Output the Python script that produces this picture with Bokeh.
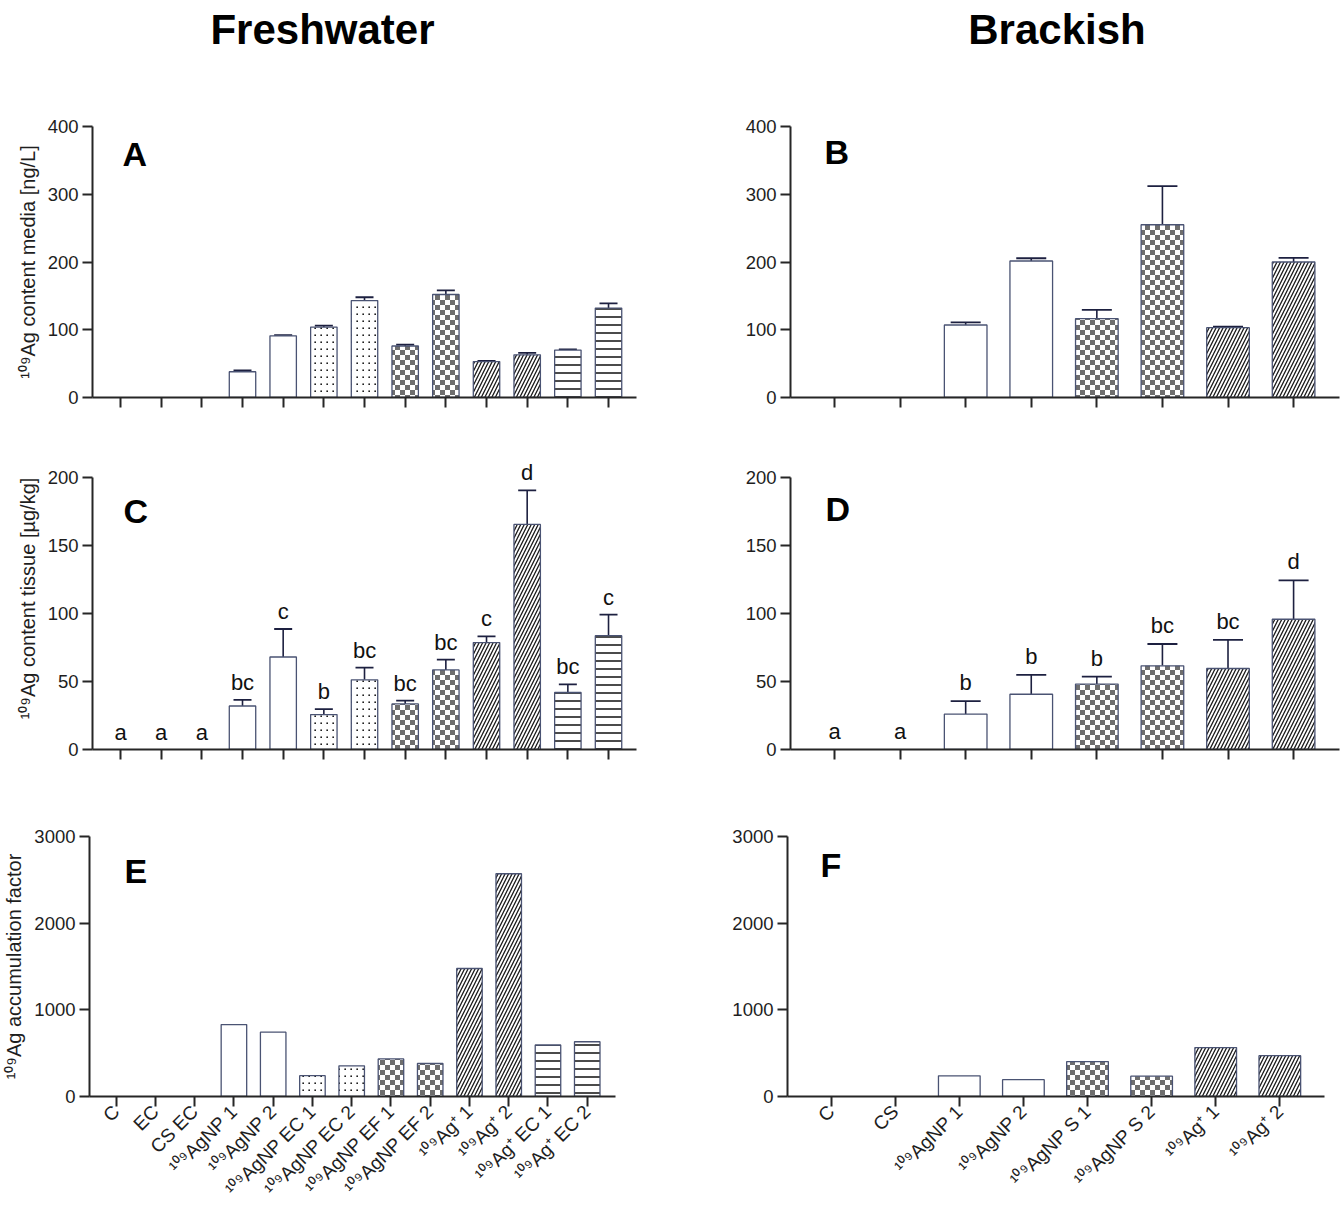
import math
import zlib
import struct
import base64
from bokeh.plotting import figure
from bokeh.models import (Range1d, FixedTicker, ColumnDataSource, Whisker, TeeHead,
                          LabelSet, Label, ImageURLTexture)
from bokeh.layouts import column, row
from bokeh.core.properties import value
from bokeh.embed import file_html
from bokeh.resources import INLINE

# ---------------- data ----------------
fw_cats = ["C", "EC", "CS EC", "¹⁰⁹AgNP 1", "¹⁰⁹AgNP 2", "¹⁰⁹AgNP EC 1", "¹⁰⁹AgNP EC 2",
           "¹⁰⁹AgNP EF 1", "¹⁰⁹AgNP EF 2", "¹⁰⁹Ag⁺ 1", "¹⁰⁹Ag⁺ 2", "¹⁰⁹Ag⁺ EC 1", "¹⁰⁹Ag⁺ EC 2"]
fw_groups = ["none", "none", "none", "open", "open", "dots", "dots",
             "checker", "checker", "diag", "diag", "hline", "hline"]
fw_media = [0, 0, 0, 38, 91, 104, 143, 76, 152, 53, 63, 70, 132]
fw_media_err = [0, 0, 0, 2, 1, 2, 5, 2, 6, 1, 3, 1, 7]
fw_tissue = [0, 0, 0, 32, 68, 25.7, 51.2, 33.5, 58.5, 78.6, 165.5, 41.9, 83.7]
fw_tissue_err = [0, 0, 0, 4.5, 20.6, 4, 9, 2.5, 7.6, 4.6, 25, 6, 15.4]
fw_letters = ["a", "a", "a", "bc", "c", "b", "bc", "bc", "bc", "c", "d", "bc", "c"]
fw_af = [0, 0, 0, 830, 742, 240, 354, 434, 381, 1477, 2570, 594, 632]

br_cats = ["C", "CS", "¹⁰⁹AgNP 1", "¹⁰⁹AgNP 2", "¹⁰⁹AgNP S 1", "¹⁰⁹AgNP S 2", "¹⁰⁹Ag⁺ 1", "¹⁰⁹Ag⁺ 2"]
br_groups = ["none", "none", "open", "open", "checker", "checker", "diag", "diag"]
br_media = [0, 0, 107, 201.5, 116.3, 255, 103, 200]
br_media_err = [0, 0, 4, 4, 13, 57, 1.5, 6]
br_tissue = [0, 0, 26, 40.6, 48.1, 61.5, 59.5, 95.7]
br_tissue_err = [0, 0, 9.5, 14.3, 5.4, 16, 21, 28.5]
br_letters = ["a", "a", "b", "b", "b", "bc", "bc", "d"]
br_af = [0, 0, 239, 194, 403, 235, 564, 471]

media_ticks = [0, 100, 200, 300, 400]
tissue_ticks = [0, 50, 100, 150, 200]
af_ticks = [0, 1000, 2000, 3000]

FONT = "Liberation Sans"
AX = "#262626"
BAR_LINE = "#4a5373"
ERR = "#1d2040"


def png_uri(rows):
    """Tiny grayscale PNG tile, used as a fill texture."""
    h, w = len(rows), len(rows[0])
    raw = b"".join(b"\x00" + bytes(r) for r in rows)

    def chunk(t, d):
        return (struct.pack(">I", len(d)) + t + d +
                struct.pack(">I", zlib.crc32(t + d) & 0xffffffff))
    data = (b"\x89PNG\r\n\x1a\n" +
            chunk(b"IHDR", struct.pack(">IIBBBBB", w, h, 8, 0, 0, 0, 0)) +
            chunk(b"IDAT", zlib.compress(raw)) + chunk(b"IEND", b""))
    return "data:image/png;base64," + base64.b64encode(data).decode()


checker_tile = [[0x6e if ((x < 5) == (y < 5)) else 0xff for x in range(10)] for y in range(10)]
dots_tile = [[0xff] * 6 for _ in range(7)]
dots_tile[3][3] = 0x20
dots_tile[3][2] = 0x70
dots_tile[2][3] = 0x80
dots_tile[2][2] = 0xb0

checker = ImageURLTexture(url=png_uri(checker_tile))
dots = ImageURLTexture(url=png_uri(dots_tile))

STYLES = {
    "open": dict(),
    "dots": dict(hatch_pattern=value("dots"), hatch_extra={"dots": dots}, hatch_color="black"),
    "checker": dict(hatch_pattern=value("checker"), hatch_extra={"checker": checker},
                    hatch_color="black"),
    "diag": dict(hatch_pattern=value("right_diagonal_line"), hatch_scale=7, hatch_weight=1.3,
                 hatch_color="#1a1a1a"),
    "hline": dict(hatch_pattern=value("horizontal_line"), hatch_scale=8, hatch_weight=1.7,
                  hatch_color="#2a2a2a"),
}


def panel(width, height, mbl, mbr, mbt, mbb, xr, yr, yticks, n, ylabel=None, labels=None):
    p = figure(width=width, height=height, output_backend="svg", toolbar_location=None,
               x_range=Range1d(*xr), y_range=Range1d(*yr),
               min_border_left=mbl, min_border_right=mbr, min_border_top=mbt, min_border_bottom=mbb)
    p.outline_line_color = None
    p.xgrid.visible = False
    p.ygrid.visible = False
    for ax in (p.xaxis[0], p.yaxis[0]):
        ax.axis_line_color = AX
        ax.axis_line_width = 2
        ax.major_tick_line_color = AX
        ax.major_tick_line_width = 2
        ax.major_tick_out = 10
        ax.major_tick_in = 0
        ax.minor_tick_out = 0
        ax.minor_tick_in = 0
        ax.major_label_text_font = FONT
        ax.major_label_text_font_size = "18.5px"
        ax.major_label_text_color = "#1e1e1e"
    p.xaxis.ticker = FixedTicker(ticks=list(range(n)))
    if labels is None:
        p.xaxis.major_label_overrides = {i: "" for i in range(n)}
    else:
        p.xaxis.major_label_overrides = {i: t for i, t in enumerate(labels)}
        p.xaxis.major_label_orientation = math.pi / 4
        p.xaxis.major_label_standoff = 2
        p.xaxis.major_label_text_font_size = "19px"
    p.yaxis.ticker = FixedTicker(ticks=yticks)
    p.yaxis.bounds = (yticks[0], yticks[-1])
    p.yaxis.major_label_standoff = 4
    if ylabel:
        p.yaxis.axis_label = ylabel
        p.yaxis.axis_label_text_font = FONT
        p.yaxis.axis_label_text_font_size = "20px"
        p.yaxis.axis_label_text_font_style = "normal"
        p.yaxis.axis_label_text_color = "#1e1e1e"
        p.yaxis.axis_label_standoff = 6
    return p


def bars(p, vals, groups, width=0.65):
    for g, st in STYLES.items():
        idx = [i for i, (v, gg) in enumerate(zip(vals, groups)) if gg == g and v > 0]
        if not idx:
            continue
        src = ColumnDataSource(dict(x=idx, top=[vals[i] for i in idx]))
        p.vbar(x="x", top="top", bottom=0, width=width, source=src, fill_color="white",
               line_color=BAR_LINE, line_width=1.3, **st)


def errors(p, vals, errs, head):
    idx = [i for i, e in enumerate(errs) if e > 0]
    src = ColumnDataSource(dict(x=idx, up=[vals[i] + errs[i] for i in idx],
                                lo=[vals[i] - errs[i] for i in idx]))
    w = Whisker(source=src, base="x", upper="up", lower="lo", dimension="height",
                line_color=ERR, line_width=1.6,
                upper_head=TeeHead(size=head, line_color=ERR, line_width=1.8),
                lower_head=TeeHead(size=head, line_color=ERR, line_width=1.8))
    p.add_layout(w)


def letters(p, vals, errs, labs, off):
    src = ColumnDataSource(dict(x=list(range(len(vals))),
                                y=[v + e for v, e in zip(vals, errs)], t=labs))
    p.add_layout(LabelSet(x="x", y="y", text="t", source=src, text_align="center",
                          text_baseline="alphabetic", y_offset=off,
                          text_font=value(FONT), text_font_size="22px", text_color="#111111"))


def tag(p, t, x, y):
    p.add_layout(Label(x=x, y=y, x_units="screen", y_units="screen", text=t,
                       text_font=FONT, text_font_size="34px", text_font_style="bold",
                       text_baseline="middle", text_color="black"))


nf, nb = len(fw_cats), len(br_cats)

# titles
pt = figure(width=1341, height=80, output_backend="svg", toolbar_location=None,
            x_range=Range1d(0, 1341), y_range=Range1d(0, 80),
            x_axis_location=None, y_axis_location=None, min_border=0)
pt.outline_line_color = None
pt.grid.visible = False
pt.text(x=[322, 1056.5], y=[51, 51], text=["Freshwater", "Brackish"],
        text_font=value(FONT), text_font_style="bold", text_font_size="42px",
        text_align="center", text_baseline="middle", text_color="black")

# tissue panels: frame extends 30 px above the 200 tick so the letters stay visible
C_AX, D_AX = 272, 274
C_TOP = 200 * (C_AX + 30) / C_AX
D_TOP = 200 * (D_AX + 30) / D_AX

# A
pA = panel(700, 360, 92, 64, 46, 43, (-0.6885, 12.688), (0, 400), media_ticks, nf,
           "¹⁰⁹Ag content media [ng/L]")
bars(pA, fw_media, fw_groups)
errors(pA, fw_media, fw_media_err, 18)
tag(pA, "A", 30, 244)

# B
pB = panel(641, 360, 90, 2, 44, 42, (-0.671, 7.70), (0, 400), media_ticks, nb)
bars(pB, br_media, br_groups)
errors(pB, br_media, br_media_err, 30)
tag(pB, "B", 34, 245.5)

# C
pC = panel(700, 360, 92, 64, 7, 51, (-0.6885, 12.688), (0, C_TOP), tissue_ticks, nf,
           "¹⁰⁹Ag content tissue [µg/kg]")
bars(pC, fw_tissue, fw_groups)
errors(pC, fw_tissue, fw_tissue_err, 18)
letters(pC, fw_tissue, fw_tissue_err, fw_letters, 10)
tag(pC, "C", 31, 238.5)

# D
pD = panel(641, 360, 90, 2, 7, 49, (-0.671, 7.70), (0, D_TOP), tissue_ticks, nb)
bars(pD, br_tissue, br_groups)
errors(pD, br_tissue, br_tissue_err, 30)
letters(pD, br_tissue, br_tissue_err, br_letters, 11)
tag(pD, "D", 35, 240.5)

# E
pE = panel(700, 410, 89, 85, 36, 112, (-0.679, 12.72), (0, 3000), af_ticks, nf,
           "¹⁰⁹Ag accumulation factor", labels=fw_cats)
bars(pE, fw_af, fw_groups)
tag(pE, "E", 35, 226)

# F
pF = panel(641, 410, 87, 17, 36, 107, (-0.68, 7.697), (0, 3000), af_ticks, nb, labels=br_cats)
bars(pF, br_af, br_groups)
tag(pF, "F", 33, 231.5)

layout = column(pt, row(pA, pB), row(pC, pD), row(pE, pF))
open("out.html", "w").write(file_html(layout, INLINE))
